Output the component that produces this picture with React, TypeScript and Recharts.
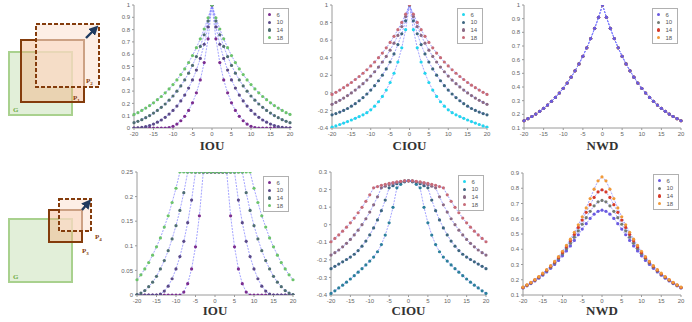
import React from 'react';
import { LineChart, Line, XAxis, YAxis } from 'recharts';

// box offset along the diagonal, -20..20
const XS = [
  -20, -19, -18, -17, -16, -15, -14, -13, -12, -11, -10, -9, -8, -7, -6, -5, -4, -3, -2, -1,
  0, 1, 2, 3, 4, 5, 6, 7, 8, 9, 10, 11, 12, 13, 14, 15, 16, 17, 18, 19, 20,
];
const X_TICKS = [-20, -15, -10, -5, 0, 5, 10, 15, 20];
const SIZES = ['6', '10', '14', '18'];

// ---- top row: same-size boxes ----
const iouTop6 = [0, 0, 0, 0, 0, 0, 0, 0, 0, .004, .014, .032, .059, .095, .143, .205, .286, .391, .532, .725,
  1, .725, .532, .391, .286, .205, .143, .095, .059, .032, .014, .004, 0, 0, 0, 0, 0, 0, 0, 0, 0];
const iouTop10 = [0, .001, .005, .011, .020, .032, .047, .065, .087, .113, .143, .178, .220, .268, .325, .391, .471, .566, .681, .822,
  1, .822, .681, .566, .471, .391, .325, .268, .220, .178, .143, .113, .087, .065, .047, .032, .020, .011, .005, .001, 0];
const iouTop14 = [.043, .054, .068, .084, .101, .121, .143, .168, .195, .226, .260, .299, .342, .391, .446, .509, .581, .663, .758, .869,
  1, .869, .758, .663, .581, .509, .446, .391, .342, .299, .260, .226, .195, .168, .143, .121, .101, .084, .068, .054, .043];
const iouTop18 = [.110, .125, .143, .162, .182, .205, .230, .256, .286, .318, .353, .391, .434, .480, .532, .589, .653, .725, .805, .896,
  1, .896, .805, .725, .653, .589, .532, .480, .434, .391, .353, .318, .286, .256, .230, .205, .182, .162, .143, .125, .110];

const ciouTop6 = [-.391, -.376, -.36, -.344, -.327, -.309, -.290, -.270, -.25, -.225, -.193, -.152, -.101, -.041, .032, .118, .223, .351, .512, .719,
  1, .719, .512, .351, .223, .118, .032, -.041, -.101, -.152, -.193, -.225, -.25, -.270, -.290, -.309, -.327, -.344, -.36, -.376, -.391];
const ciouTop10 = [-.25, -.236, -.219, -.200, -.178, -.152, -.123, -.090, -.054, -.013, .032, .082, .138, .201, .272, .351, .443, .549, .673, .820,
  1, .820, .673, .549, .443, .351, .272, .201, .138, .082, .032, -.013, -.054, -.090, -.123, -.152, -.178, -.200, -.219, -.236, -.25];
const ciouTop14 = [-.131, -.109, -.085, -.059, -.031, -.001, .032, .067, .105, .146, .191, .240, .293, .351, .415, .486, .565, .654, .754, .868,
  1, .868, .754, .654, .565, .486, .415, .351, .293, .240, .191, .146, .105, .067, .032, -.001, -.031, -.059, -.085, -.109, -.131];
const ciouTop18 = [-.018, .006, .032, .059, .087, .118, .152, .186, .223, .263, .306, .351, .401, .453, .512, .574, .643, .719, .802, .895,
  1, .895, .802, .719, .643, .574, .512, .453, .401, .351, .306, .263, .223, .186, .152, .118, .087, .059, .032, .006, -.018];

// all four sizes give the same NWD curve
const nwdTop = [.153, .168, .184, .202, .222, .244, .268, .295, .324, .356, .391, .429, .472, .518, .569, .625, .687, .754, .829, .910,
  1, .910, .829, .754, .687, .625, .569, .518, .472, .429, .391, .356, .324, .295, .268, .244, .222, .202, .184, .168, .153];

// ---- bottom row: small box vs large box ----
const iouBot6 = [0, 0, 0, 0, 0, 0, 0, 0, 0, 0, 0, 0, .006, .023, .053, .098, .161, .25, .25, .25,
  .25, .25, .25, .25, .161, .098, .053, .023, .006, 0, 0, 0, 0, 0, 0, 0, 0, 0, 0, 0, 0];
const iouBot10 = [0, 0, 0, 0, 0, 0, .002, .008, .018, .033, .053, .078, .109, .147, .193, .25, .25, .25, .25, .25,
  .25, .25, .25, .25, .25, .25, .193, .147, .109, .078, .053, .033, .018, .008, .002, 0, 0, 0, 0, 0, 0];
const iouBot14 = [.001, .004, .009, .017, .026, .038, .053, .070, .090, .114, .141, .172, .208, .25, .25, .25, .25, .25, .25, .25,
  .25, .25, .25, .25, .25, .25, .25, .25, .208, .172, .141, .114, .090, .070, .053, .038, .026, .017, .009, .004, .001];
const iouBot18 = [.031, .041, .053, .066, .081, .098, .116, .138, .161, .188, .217, .25, .25, .25, .25, .25, .25, .25, .25, .25,
  .25, .25, .25, .25, .25, .25, .25, .25, .25, .25, .217, .188, .161, .138, .116, .098, .081, .066, .053, .041, .031];

const ciouBot6 = [-.391, -.376, -.36, -.344, -.327, -.309, -.290, -.270, -.25, -.229, -.207, -.184, -.154, -.113, -.059, .011, .099, .21, .230, .244,
  .25, .244, .230, .21, .099, .011, -.059, -.113, -.154, -.184, -.207, -.229, -.25, -.270, -.290, -.309, -.327, -.344, -.36, -.376, -.391];
const ciouBot10 = [-.25, -.237, -.224, -.211, -.198, -.184, -.168, -.147, -.122, -.093, -.058, -.018, .027, .080, .140, .21, .222, .233, .242, .248,
  .25, .248, .242, .233, .222, .21, .140, .080, .027, -.018, -.058, -.093, -.122, -.147, -.168, -.184, -.198, -.211, -.224, -.237, -.25];
const ciouBot14 = [-.173, -.159, -.144, -.126, -.106, -.084, -.058, -.031, 0, .034, .072, .113, .159, .21, .219, .227, .234, .241, .246, .249,
  .25, .249, .246, .241, .234, .227, .219, .21, .159, .113, .072, .034, 0, -.031, -.058, -.084, -.106, -.126, -.144, -.159, -.173];
const ciouBot18 = [-.097, -.078, -.058, -.037, -.014, .011, .038, .068, .099, .133, .170, .21, .217, .224, .230, .235, .24, .244, .247, .249,
  .25, .249, .247, .244, .24, .235, .230, .224, .217, .21, .170, .133, .099, .068, .038, .011, -.014, -.037, -.058, -.078, -.097];

const nwdBot6 = [.146, .160, .175, .192, .210, .230, .251, .275, .300, .327, .357, .389, .422, .458, .495, .532, .568, .602, .630, .649,
  .656, .649, .630, .602, .568, .532, .495, .458, .422, .389, .357, .327, .300, .275, .251, .230, .210, .192, .175, .160, .146];
const nwdBot10 = [.148, .163, .178, .196, .215, .235, .258, .282, .309, .338, .369, .404, .440, .479, .521, .564, .607, .649, .685, .711,
  .720, .711, .685, .649, .607, .564, .521, .479, .440, .404, .369, .338, .309, .282, .258, .235, .215, .196, .178, .163, .148];
const nwdBot14 = [.150, .165, .181, .199, .218, .239, .263, .288, .316, .346, .379, .416, .455, .497, .543, .591, .642, .692, .740, .776,
  .790, .776, .740, .692, .642, .591, .543, .497, .455, .416, .379, .346, .316, .288, .263, .239, .218, .199, .181, .165, .150];
const nwdBot18 = [.152, .167, .183, .201, .221, .243, .266, .292, .321, .352, .387, .425, .466, .511, .560, .613, .671, .732, .794, .849,
  .874, .849, .794, .732, .671, .613, .560, .511, .466, .425, .387, .352, .321, .292, .266, .243, .221, .201, .183, .167, .152];

const IOU_COLORS = ['#7b2d8e', '#5b4a88', '#4f6e72', '#6cc36c'];
const CIOU_COLORS = ['#22d6ee', '#3d6680', '#8a6a84', '#c76b78'];
const CIOU_BOT_COLORS = ['#2c7f9c', '#3d6680', '#8a6a84', '#c76b78'];
const NWD_COLORS = ['#6a5ae0', '#747a74', '#d63a2a', '#f09a3a'];

const LINE = '#7b7bff';
const AXIS = { stroke: '#9a9a9a' };
const TICK = { fontSize: 6, fill: '#666', fontFamily: 'Liberation Sans, Arial, sans-serif' };
const YW = 28;
const MT = 4;
const MR = 6;
const XH = 12;

type PanelProps = {
  left: number; top: number; w: number; h: number;
  domain: [number, number]; ticks: number[];
  series: number[][]; colors: string[]; legendColors?: string[];
  legendX: number; legendY: number;
  title: string; titleY: number; order?: number[];
};

const Panel: React.FC<PanelProps> = (p) => {
  const rows = XS.map((x, i) => {
    const r: Record<string, number> = { x };
    p.series.forEach((s, k) => { r['s' + k] = s[i]; });
    return r;
  });
  const order = p.order ?? [0, 1, 2, 3];
  const legendColors = p.legendColors ?? p.colors;
  return (
    <>
      <div style={{ position: 'absolute', left: p.left - YW, top: p.top - MT }}>
        <LineChart width={YW + p.w + MR} height={MT + p.h + XH} data={rows}
          margin={{ top: MT, right: MR, left: 0, bottom: 0 }}>
          <XAxis dataKey="x" type="number" domain={[-20, 20]} ticks={X_TICKS} interval={0}
            height={XH} tickSize={2} tick={TICK} axisLine={AXIS} tickLine={AXIS} />
          <XAxis xAxisId="top" orientation="top" dataKey="x" type="number" domain={[-20, 20]}
            height={0} tick={false} axisLine={AXIS} />
          <YAxis type="number" domain={p.domain} ticks={p.ticks} interval={0} width={YW}
            tickSize={2} tick={TICK} axisLine={AXIS} tickLine={AXIS} allowDataOverflow />
          <YAxis yAxisId="right" orientation="right" type="number" domain={p.domain}
            width={0} tick={false} axisLine={AXIS} />
          {order.map((k) => (
            <Line key={k} dataKey={'s' + k} type="linear" stroke={LINE} strokeWidth={0.7}
              strokeDasharray="2 1.2"
              dot={{ r: 1.6, fill: p.colors[k], stroke: 'none', strokeWidth: 0 }}
              isAnimationActive={false} />
          ))}
        </LineChart>
      </div>
      <div style={{
        position: 'absolute', left: p.legendX, top: p.legendY, width: 24, padding: '2px 0',
        border: '1px solid #b0b0b0', background: '#fff',
        fontFamily: 'Liberation Sans, Arial, sans-serif', fontSize: 6, color: '#555',
      }}>
        {SIZES.map((s, k) => (
          <div key={s} style={{ display: 'flex', alignItems: 'center', height: 7.6 }}>
            <span style={{ width: 3.4, height: 3.4, borderRadius: '50%', background: legendColors[k], marginLeft: 4, marginRight: 5 }} />
            <span>{s}</span>
          </div>
        ))}
      </div>
      <div style={{
        position: 'absolute', left: p.left, width: p.w, top: p.titleY, textAlign: 'center',
        fontFamily: 'Liberation Serif, Times New Roman, serif', fontWeight: 700, fontSize: 13, color: '#333',
      }}>{p.title}</div>
    </>
  );
};

const BROWN = '#843c0c';

const Boxes: React.FC = () => (
  <svg width={120} height={322} style={{ position: 'absolute', left: 0, top: 0 }}>
    <defs>
      <marker id="ah" markerWidth="4" markerHeight="4" refX="2" refY="2" orient="auto">
        <path d="M0,0 L4,2 L0,4 z" fill="#1f3a5f" />
      </marker>
    </defs>
    {/* top */}
    <rect x={9} y={52} width={63} height={63} fill="#e2efd9" stroke="#a9d18e" strokeWidth={2} />
    <rect x={21} y={40} width={63} height={62} fill="#f4b183" fillOpacity={0.45} stroke={BROWN} strokeWidth={2} />
    <rect x={36} y={24} width={63} height={63} fill="#fbe5d6" fillOpacity={0.6} stroke={BROWN} strokeWidth={2} strokeDasharray="4 2" />
    <line x1={86} y1={38} x2={95} y2={29} stroke="#1f3a5f" strokeWidth={2.4} markerEnd="url(#ah)" />
    <text x={86} y={83} fontSize={7} fontWeight={700} fill={BROWN} fontFamily="Liberation Serif">P<tspan fontSize={5} dy={2}>2</tspan></text>
    <text x={73} y={100} fontSize={7} fontWeight={700} fill={BROWN} fontFamily="Liberation Serif">P<tspan fontSize={5} dy={2}>1</tspan></text>
    <text x={13} y={112} fontSize={7} fontWeight={700} fill="#70ad47" fontFamily="Liberation Serif">G</text>
    {/* bottom */}
    <rect x={9} y={219} width={63} height={63} fill="#e2efd9" stroke="#a9d18e" strokeWidth={2} />
    <rect x={49} y={210} width={33} height={32} fill="#f4b183" fillOpacity={0.45} stroke={BROWN} strokeWidth={2} />
    <rect x={59} y={199} width={32} height={32} fill="#fbe5d6" fillOpacity={0.6} stroke={BROWN} strokeWidth={2} strokeDasharray="4 2" />
    <line x1={82} y1={210} x2={88} y2={203} stroke="#1f3a5f" strokeWidth={2.4} markerEnd="url(#ah)" />
    <text x={95} y={239} fontSize={7} fontWeight={700} fill={BROWN} fontFamily="Liberation Serif">P<tspan fontSize={5} dy={2}>4</tspan></text>
    <text x={82} y={253} fontSize={7} fontWeight={700} fill={BROWN} fontFamily="Liberation Serif">P<tspan fontSize={5} dy={2}>3</tspan></text>
    <text x={13} y={279} fontSize={7} fontWeight={700} fill="#70ad47" fontFamily="Liberation Serif">G</text>
  </svg>
);

const TOP_TITLE_Y = 138;
const BOT_TITLE_Y = 303;

export default function App() {
  return (
    <div style={{ position: 'absolute', left: 0, top: 0, width: 692, height: 322, background: '#fff', overflow: 'hidden' }}>
      <Boxes />
      <Panel left={134} top={5} w={156} h={123} domain={[0, 1]}
        ticks={[0, 0.1, 0.2, 0.3, 0.4, 0.5, 0.6, 0.7, 0.8, 0.9, 1]}
        series={[iouTop6, iouTop10, iouTop14, iouTop18]} colors={IOU_COLORS}
        legendX={263} legendY={8} title="IOU" titleY={TOP_TITLE_Y} />
      <Panel left={332} top={5} w={155} h={123} domain={[-0.4, 1]}
        ticks={[-0.4, -0.2, 0, 0.2, 0.4, 0.6, 0.8, 1]}
        series={[ciouTop6, ciouTop10, ciouTop14, ciouTop18]} colors={CIOU_COLORS}
        legendX={457} legendY={8} title="CIOU" titleY={TOP_TITLE_Y} />
      <Panel left={524} top={5} w={157} h={123} domain={[0.1, 1]}
        ticks={[0.1, 0.2, 0.3, 0.4, 0.5, 0.6, 0.7, 0.8, 0.9, 1]}
        series={[nwdTop, nwdTop, nwdTop, nwdTop]} colors={NWD_COLORS} order={[3, 2, 1, 0]}
        legendX={652} legendY={8} title="NWD" titleY={TOP_TITLE_Y} />
      <Panel left={137} top={172} w={156} h={123} domain={[0, 0.25]}
        ticks={[0, 0.05, 0.1, 0.15, 0.2, 0.25]}
        series={[iouBot6, iouBot10, iouBot14, iouBot18]} colors={IOU_COLORS}
        legendX={263} legendY={176} title="IOU" titleY={BOT_TITLE_Y} />
      <Panel left={331} top={172} w={155} h={123} domain={[-0.4, 0.3]}
        ticks={[-0.4, -0.3, -0.2, -0.1, 0, 0.1, 0.2, 0.3]}
        series={[ciouBot6, ciouBot10, ciouBot14, ciouBot18]} colors={CIOU_BOT_COLORS} legendColors={CIOU_COLORS}
        legendX={458} legendY={175} title="CIOU" titleY={BOT_TITLE_Y} />
      <Panel left={523} top={173} w={158} h={122} domain={[0.1, 0.9]}
        ticks={[0.1, 0.2, 0.3, 0.4, 0.5, 0.6, 0.7, 0.8, 0.9]}
        series={[nwdBot6, nwdBot10, nwdBot14, nwdBot18]} colors={NWD_COLORS}
        legendX={653} legendY={174} title="NWD" titleY={BOT_TITLE_Y} />
    </div>
  );
}
